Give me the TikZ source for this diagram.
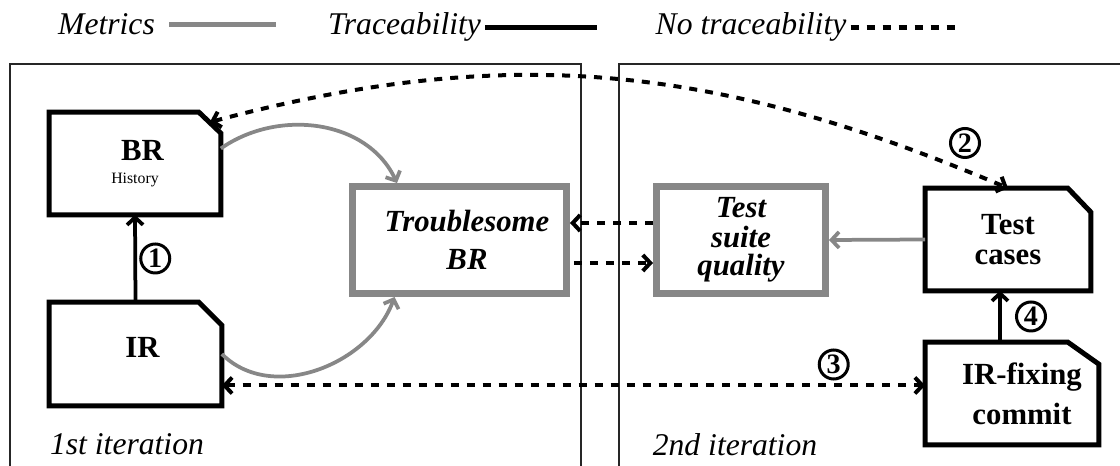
\documentclass[tikz,border=0pt]{standalone}
\usepackage{fontspec}
\setmainfont{Liberation Serif}
\usetikzlibrary{arrows.meta}
\definecolor{metricgray}{gray}{0.53}

\begin{document}
\begin{tikzpicture}[x=0.02cm, y=0.02cm,
    >={Straight Barb[length=0.15cm,width=0.32cm]},
    docline/.style={line width=0.1cm},
    docbox/.style={minimum width=3.42cm, minimum height=2.04cm, inner sep=0cm, align=center,
      font=\fontsize{17.5}{21}\selectfont\bfseries},
    metricbox/.style={draw=metricgray, line width=0.14cm, minimum height=2.14cm, inner sep=0cm, align=center,
      font=\fontsize{17.5}{21}\selectfont\bfseries\itshape},
    metric/.style={draw=metricgray, line width=0.075cm},
    trace/.style={line width=0.075cm},
    notrace/.style={line width=0.08cm, dash pattern=on 0.16cm off 0.16cm},
    numcirc/.style={circle, draw, solid, line width=0.06cm, inner sep=0cm, minimum size=0.58cm,
      font=\fontsize{16}{16}\selectfont\bfseries},
    frameline/.style={line width=0.03cm, draw=black!85},
    legend/.style={anchor=base, inner xsep=0.08cm, font=\fontsize{18}{18}\selectfont\itshape}]
    \useasboundingbox (0,0) rectangle (1120,466);

    % Legend
    \node [legend] (lgmet) at (106.5,431) {Metrics};
    \coordinate (lgmetend) at (276,0);
    \draw [metric, line width=0.09cm, shorten <=0.2cm] (lgmet.east) -- (lgmet.east -| lgmetend);
    \node [legend] (lgtrace) at (404.5,431) {Traceability};
    \coordinate (lgtraceend) at (597,0);
    \draw [trace, line width=0.09cm] (lgtrace.east) -- (lgtrace.east -| lgtraceend);
    \node [legend] (lgnotrace) at (751,431) {No traceability};
    \coordinate (lgnotraceend) at (962,0);
    \draw [notrace, line width=0.09cm] (lgnotrace.east) -- (lgnotrace.east -| lgnotraceend);

    % Drawing frames of both iterations
    \draw [frameline] (10,-5) -- (10,402) -- (581,402) -- (581,-5);%
    \draw [frameline] (619,-5) -- (619,402) -- (1125,402);%
    \node [legend] (iter1) at (127,11) {1st iteration};
    \node [legend] (iter2) at (735,10) {2nd iteration};

    % Drawing box BR
    \node [docbox, font=\fontsize{17.5}{13}\selectfont\bfseries] (br) at (135,302.5)
      {\hspace*{0.3cm}BR\\{\fontsize{9}{10}\selectfont\mdseries History}};
    \draw [docline] (br.south west) -- (br.north west) -- ([xshift=-0.44cm]br.north east)
      -- ([yshift=-0.42cm]br.north east) -- (br.south east) -- cycle;%

    % Drawing box IR
    \node [docbox, minimum width=3.44cm, minimum height=2.06cm, text depth=0.28cm] (ir) at (135.5,112) {\hspace*{0.28cm}IR};
    \draw [docline] (ir.south west) -- (ir.north west) -- ([xshift=-0.46cm]ir.north east)
      -- ([yshift=-0.46cm]ir.north east) -- (ir.south east) -- cycle;%

    % Drawing box Test cases
    \node [docbox, minimum width=3.3cm, font=\fontsize{17.5}{17.5}\selectfont\bfseries] (tc) at (1008,226.5) {Test\\cases};
    \draw [docline] (tc.south west) -- (tc.north west) -- ([xshift=-0.46cm]tc.north east)
      -- ([yshift=-0.48cm]tc.north east) -- (tc.south east) -- cycle;%

    % Drawing box IR-fixing commit
    \node [docbox, minimum width=3.46cm, font=\fontsize{17.5}{22.7}\selectfont\bfseries] (fix) at (1012,72.5) {\hspace*{0.4cm}IR-fixing\\\hspace*{0.4cm}commit};
    \draw [docline] (fix.south west) -- (fix.north west) -- ([xshift=-0.62cm]fix.north east)
      -- ([yshift=-0.44cm]fix.north east) -- (fix.south east) -- cycle;%

    % Drawing metric boxes
    \node [metricbox, minimum width=4.28cm, font=\fontsize{17.5}{21.5}\selectfont\bfseries\itshape] (tb) at (459.5,226) {\hspace*{0.3cm}Troublesome\\\hspace*{0.3cm}BR};
    \node [metricbox, minimum width=3.38cm, font=\fontsize{17.5}{15.5}\selectfont\bfseries\itshape] (tq) at (741,226) {Test\\[1.5pt]suite\\[0.5pt]quality};

    % Metrics
    \draw [metric, ->] ([yshift=0.3cm]br.east) to [out=35, in=115] ([xshift=-1.25cm]tb.north);%
    \draw [metric, ->] (ir.east) to [out=-45, in=-110] ([xshift=-1.3cm]tb.south);%
    \draw [metric, ->] (tc.west) -- (tq.east);%

    % Traceability
    \draw [trace, ->] (ir.north) -- (br.south) node [numcirc, midway, right=0.08cm] (one) {1};%
    \coordinate (tcin) at ([xshift=-0.16cm]tc.south);
    \draw [trace, ->] (tcin |- fix.north) -- (tcin) node [numcirc, midway, right=0.3cm] (four) {4};%

    % No traceability
    \coordinate (brcut) at ([shift={(-11,-10)}]br.north east);
    \draw [notrace, <->] (brcut) to [out=15, in=157] (tc.north);%
    \node [numcirc] (two) at (965,323) {2};
    \coordinate (tqout) at ([yshift=0.34cm]tq.west);
    \draw [notrace, ->] (tqout) -- (tqout -| tb.east);%
    \coordinate (tbout) at ([yshift=-0.46cm]tb.east);
    \draw [notrace, ->, shorten <=0.08cm] (tbout) -- (tbout -| tq.west);%
    \coordinate (fixin) at ([yshift=0.16cm]fix.west);
    \draw [notrace, <->] (ir.east |- fixin) -- (fixin) node [numcirc, pos=0.87, above=0.1cm] (three) {3};%
\end{tikzpicture}
\end{document}
